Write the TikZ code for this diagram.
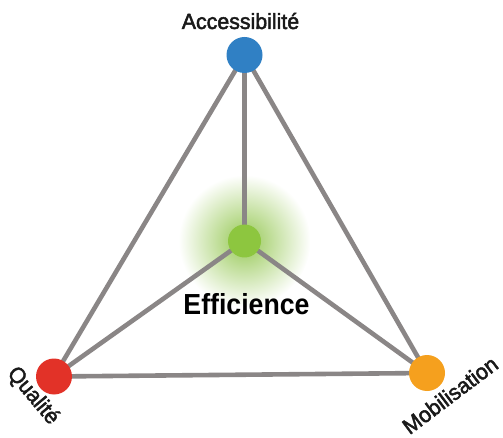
\documentclass[tikz,border=0pt]{standalone}
\usepackage{fontspec}
\setmainfont{Liberation Sans}
\newfontfamily\lblfont[FakeBold=2.2,FakeStretch=0.97]{Liberation Sans}
\newfontfamily\effont[FakeStretch=0.92]{Liberation Sans}
\definecolor{linegray}{RGB}{138,134,134}
\definecolor{accblue}{RGB}{48,128,196}
\definecolor{effgreen}{RGB}{141,198,63}
\definecolor{qualred}{RGB}{226,50,40}
\definecolor{moborange}{RGB}{245,160,30}
\definecolor{glowgreen}{RGB}{150,200,85}
\tikzset{
  dot/.style={circle, minimum size=36pt, inner sep=0pt},
  edge/.style={draw=linegray, line width=4.6pt},
  lbl/.style={font=\lblfont\fontsize{22}{24}\selectfont, text=black!90, inner sep=0pt}
}
\begin{document}
\begin{tikzpicture}[x=1pt,y=-1pt]
  \useasboundingbox (0,0) rectangle (503,438);
  % soft halo behind the central point
  \shade[inner color=glowgreen, outer color=white] (244.5,241) circle (66);
  % points
  \node[dot] (acc) at (244.5,55) {};
  \node[dot, minimum size=33pt] (eff) at (244.5,241) {};
  \node[dot] (qual) at (54,376.5) {};
  \node[dot] (mob) at (427,373) {};
  % connectors
  \draw[edge] (acc.center) -- (qual.center) -- (mob.center) -- (acc.center);
  \draw[edge] (eff.center) -- (acc.center);
  \draw[edge] (eff.center) -- (qual.center);
  \draw[edge] (eff.center) -- (mob.center);
  % filled discs on top
  \fill[accblue] (acc) circle (18);
  \fill[effgreen] (eff) circle (16.5);
  \fill[qualred] (qual) circle (18);
  \fill[moborange] (mob) circle (18);
  % labels
  \node[lbl, anchor=base] (acclbl) at (240.5,29) {Accessibilité};
  \node[anchor=base, inner sep=0pt, font=\effont\bfseries\fontsize{29}{31}\selectfont] (efflbl) at (246.5,314) {Efficience};
  \node[lbl, rotate=-50] (quallbl) at (33,396) {Qualité};
  \node[lbl, rotate=37] (moblbl) at (450,395) {Mobilisation};
\end{tikzpicture}
\end{document}
